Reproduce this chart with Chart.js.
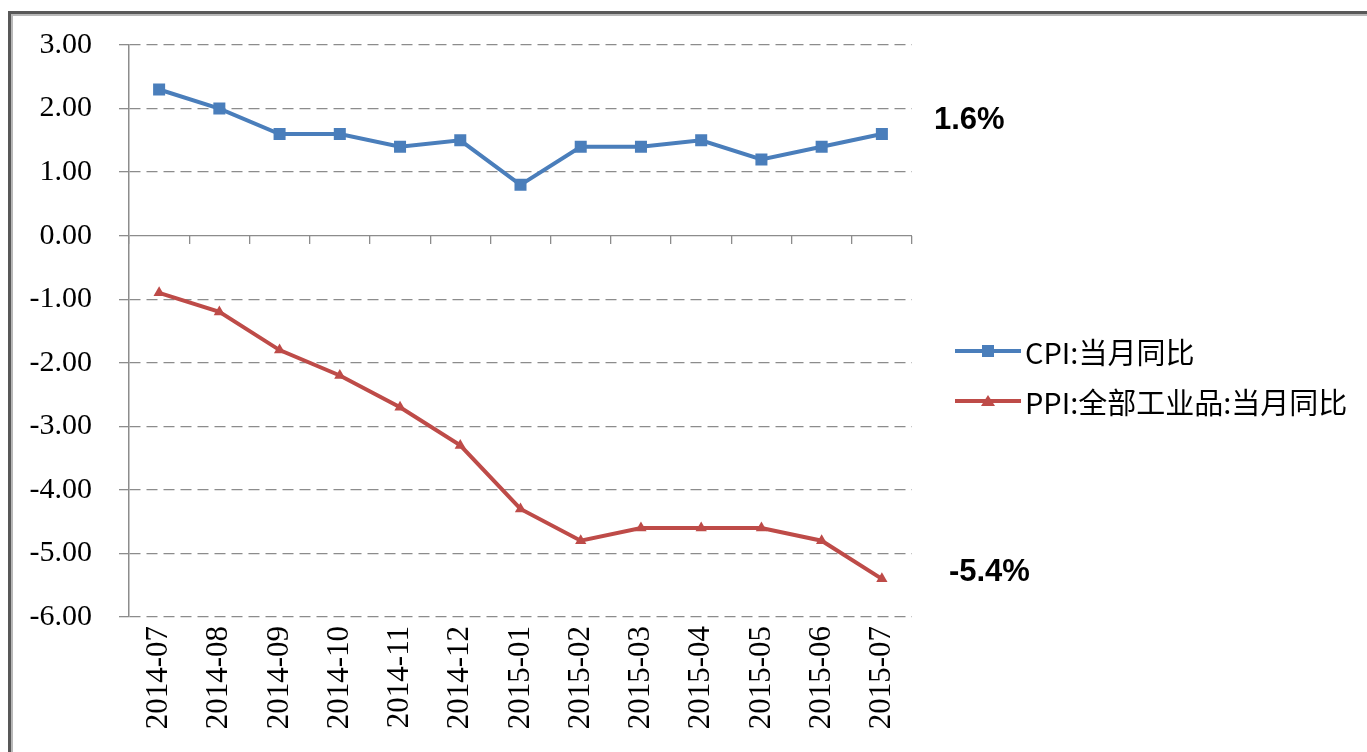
<!DOCTYPE html>
<html lang="zh-CN">
<head>
<meta charset="UTF-8">
<title>CPI与PPI当月同比</title>
<script src="https://cdn.jsdelivr.net/npm/chart.js"></script>
<style>
  body { margin: 0; width: 1367px; height: 752px; overflow: hidden; background: #fff; }
  .frame {
    position: absolute; left: 8px; top: 11px; width: 1400px; height: 800px;
    border: 3px solid #585858; box-shadow: inset 2px 2px 0 #b8b8b8;
  }
  #chart { position: absolute; left: 0; top: 0; }
  #legend {
    position: absolute; left: 955px; top: 326px;
    font-family: "Noto Sans CJK SC", sans-serif; font-size: 29px; color: #000;
  }
  #legend .item { height: 50px; display: flex; align-items: center; white-space: nowrap; }
  #legend svg { margin-right: 4px; }
</style>
</head>
<body>
<div class="frame"></div>
<canvas id="chart" width="1367" height="752"></canvas>
<div id="legend"></div>

<script>
const months = ['2014-07', '2014-08', '2014-09', '2014-10', '2014-11', '2014-12',
                '2015-01', '2015-02', '2015-03', '2015-04', '2015-05', '2015-06', '2015-07'];
const cpi = [2.3, 2.0, 1.6, 1.6, 1.4, 1.5, 0.8, 1.4, 1.4, 1.5, 1.2, 1.4, 1.6];
const ppi = [-0.9, -1.2, -1.8, -2.2, -2.7, -3.3, -4.3, -4.8, -4.6, -4.6, -4.6, -4.8, -5.4];
const seriesNames = ['CPI:当月同比', 'PPI:全部工业品:当月同比'];
const yMin = -6, yMax = 3, yStep = 1;

const gridColor = '#8c8c8c';

// last-value labels to the right of each line
const endLabels = {
    id: 'endLabels',
    afterDatasetsDraw(chart) {
        const ctx = chart.ctx;
        const offsets = [[52, -14], [67, -6]];
        ctx.save();
        ctx.font = 'bold 31px "Liberation Sans", Arial, sans-serif';
        ctx.fillStyle = '#000';
        ctx.textBaseline = 'middle';
        chart.data.datasets.forEach((ds, i) => {
            const meta = chart.getDatasetMeta(i);
            const pt = meta.data[meta.data.length - 1];
            const v = ds.data[ds.data.length - 1];
            ctx.fillText(v.toFixed(1) + '%', pt.x + offsets[i][0], pt.y + offsets[i][1]);
        });
        ctx.restore();
    }
};

const chart = new Chart(document.getElementById('chart'), {
    type: 'line',
    data: {
        labels: months,
        datasets: [{
            label: seriesNames[0],
            data: cpi,
            borderColor: '#4a7ebb',
            backgroundColor: '#4a7ebb',
            borderWidth: 4,
            pointStyle: 'rect',
            pointRadius: 8.5,
            pointBorderWidth: 0,
            tension: 0
        }, {
            label: seriesNames[1],
            data: ppi,
            borderColor: '#be4b48',
            backgroundColor: '#be4b48',
            borderWidth: 4,
            pointStyle: 'triangle',
            pointRadius: 6.5,
            pointBorderWidth: 0,
            tension: 0
        }]
    },
    options: {
        responsive: false,
        animation: false,
        layout: { padding: { left: 0, top: 45, right: 455, bottom: 10 } },
        plugins: {
            legend: { display: false },
            tooltip: { enabled: false }
        },
        scales: {
            x: {
                type: 'category',
                offset: true,
                grid: { display: false, drawTicks: false },
                border: { display: false },
                ticks: {
                    autoSkip: false,
                    minRotation: 90,
                    maxRotation: 90,
                    padding: 9,
                    color: '#000',
                    font: { family: '"Liberation Serif", "Times New Roman", serif', size: 31 }
                },
                afterFit: s => { s.height = 125; }
            },
            x2: {
                type: 'category',
                labels: months,
                position: { y: 0 },
                offset: true,
                grid: { offset: true, drawOnChartArea: false, tickLength: 8, color: gridColor, lineWidth: 1.3 },
                border: { display: false },
                ticks: { display: false }
            },
            y: {
                min: yMin,
                max: yMax,
                ticks: {
                    stepSize: yStep,
                    padding: 27,
                    color: '#000',
                    font: { family: '"Liberation Serif", "Times New Roman", serif', size: 30 },
                    callback: v => v.toFixed(2)
                },
                grid: { color: gridColor, lineWidth: 1.3, tickLength: 10, tickColor: gridColor },
                border: {
                    color: gridColor,
                    width: 1.5,
                    dash: c => (c.tick && c.tick.value === 0) ? [] : [11, 6]
                },
                afterFit: s => { s.width = 129; }
            }
        }
    },
    plugins: [endLabels]
});

// legend: line with marker, then label
const legendEl = document.getElementById('legend');
chart.data.datasets.forEach(ds => {
    const c = ds.borderColor;
    const marker = ds.pointStyle === 'rect'
        ? `<rect x="27" y="9" width="12" height="12" fill="${c}"/>`
        : `<polygon points="33,9 40,20 26,20" fill="${c}"/>`;
    const row = document.createElement('div');
    row.className = 'item';
    row.innerHTML = `<svg width="66" height="30"><line x1="0" y1="15" x2="66" y2="15" stroke="${c}" stroke-width="4"/>${marker}</svg><span>${ds.label}</span>`;
    legendEl.appendChild(row);
});
</script>
</body>
</html>
